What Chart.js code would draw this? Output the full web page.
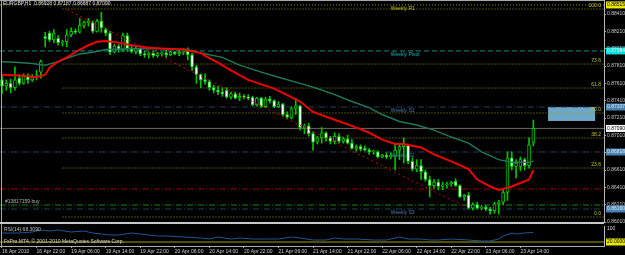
<!DOCTYPE html>
<html>
<head>
<meta charset="utf-8">
<script src="https://cdn.jsdelivr.net/npm/chart.js@4.4.1/dist/chart.umd.min.js"></script>
<style>
  html, body { margin: 0; padding: 0; background: #000; }
  #wrap { position: relative; width: 625px; height: 255px; background: #000; overflow: hidden; }
  canvas { position: absolute; left: 0; }
  #main { top: 0; }
  #sub { top: 224px; }
  .rule { position: absolute; background: #a8a8a8; }
</style>
</head>
<body>
<div id="wrap">
  <canvas id="main" width="625" height="226"></canvas>
  <canvas id="sub" width="625" height="31"></canvas>
  <div class="rule" style="left:0;top:0;width:604px;height:1px"></div>
  <div class="rule" style="left:1px;top:0;width:1px;height:246px"></div>
  <div class="rule" style="left:0;top:222px;width:604px;height:2px;background:#c8c8c8"></div>
</div>
<script>
// EURGBP H1, 16 Apr 14:00 .. 23 Apr 17:00 (bar index 0..123)
const timeLabels = ['16 Apr 2010', '16 Apr 22:00', '19 Apr 06:00', '19 Apr 14:00', '19 Apr 22:00',
  '20 Apr 06:00', '20 Apr 14:00', '20 Apr 22:00', '21 Apr 06:00', '21 Apr 14:00', '21 Apr 22:00',
  '22 Apr 06:00', '22 Apr 14:00', '22 Apr 22:00', '23 Apr 06:00', '23 Apr 14:00'];
const timeLabelBars = [0, 8, 16, 24, 32, 40, 48, 56, 64, 72, 80, 88, 96, 104, 112, 120];
const priceTicks = [0.86010, 0.86210, 0.86410, 0.86610, 0.86810, 0.87010, 0.87210,
  0.87410, 0.87610, 0.87810, 0.88010, 0.88210, 0.88410];

const opens = [
  .8765, .8758, .8761, .8756, .8767, .8761, .8770, .8765, .8768, .8774,
  .8815, .8819, .8811, .8813, .8808, .8809, .8817, .8821, .8820, .8828,
  .8831, .8831, .8821, .8833, .8823, .8819, .8797, .8804, .8800, .8816,
  .8801, .8798, .8801, .8795, .8794, .8796, .8793, .8795, .8796, .8794,
  .8797, .8795, .8797, .8798, .8794, .8780, .8771, .8765, .8763, .8756,
  .8753, .8751, .8753, .8745, .8749, .8744, .8746, .8745, .8745, .8736,
  .8744, .8734, .8743, .8741, .8734, .8737, .8725, .8721, .8732, .8735,
  .8710, .8712, .8703, .8693, .8698, .8704, .8698, .8694, .8700, .8694,
  .8697, .8692, .8686, .8688, .8686, .8684, .8682, .8682, .8676, .8678,
  .8676, .8677, .8684, .8688, .8690, .8671, .8662, .8666, .8659, .8650,
  .8643, .8647, .8642, .8644, .8645, .8648, .8643, .8630, .8632, .8617,
  .8621, .8617, .8618, .8616, .8614, .8622, .8624, .8635, .8675, .8665,
  .8665, .8673, .8666, .86928];
const highs = [
  .8770, .8765, .8766, .8780, .8771, .8772, .8772, .8771, .8776, .8788,
  .8820, .8821, .8823, .8816, .8811, .8823, .8825, .8824, .8836, .8833,
  .8836, .8833, .8835, .8843, .8825, .8821, .8806, .8806, .8819, .8819,
  .8804, .8803, .8802, .8798, .8797, .8798, .8797, .8797, .8800, .8798,
  .8798, .8800, .8801, .8802, .8796, .8782, .8772, .8772, .8765, .8759,
  .8758, .8756, .8756, .8751, .8751, .8750, .8748, .8748, .8746, .8745,
  .8745, .8745, .8746, .8742, .8740, .8738, .8728, .8734, .8744, .8736,
  .8714, .8715, .8705, .8700, .8710, .8705, .8700, .8704, .8703, .8699,
  .8701, .8696, .8690, .8690, .8689, .8686, .8684, .8683, .8679, .8681,
  .8681, .8692, .8692, .8698, .8691, .8675, .8673, .8673, .8661, .8654,
  .8650, .8650, .8647, .8647, .8648, .8651, .8644, .8633, .8635, .8623,
  .8624, .8620, .8620, .8618, .8624, .8626, .8638, .8682, .8682, .8673,
  .8676, .8675, .8698, .87187];
const lows = [
  .8749, .8753, .8750, .8753, .8759, .8760, .8761, .8763, .8765, .8767,
  .8803, .8809, .8808, .8805, .8804, .8803, .8815, .8818, .8819, .8825,
  .8827, .8819, .8820, .8820, .8816, .8794, .8796, .8797, .8798, .8798,
  .8796, .8795, .8793, .8791, .8790, .8791, .8791, .8793, .8791, .8793,
  .8794, .8793, .8794, .8788, .8776, .8761, .8756, .8760, .8753, .8750,
  .8748, .8746, .8744, .8743, .8743, .8741, .8743, .8742, .8735, .8735,
  .8733, .8733, .8738, .8733, .8733, .8723, .8720, .8720, .8725, .8707,
  .8703, .8700, .8684, .8691, .8692, .8694, .8691, .8691, .8692, .8692,
  .8691, .8685, .8683, .8683, .8683, .8679, .8679, .8675, .8675, .8674,
  .8674, .8661, .8673, .8669, .8668, .8660, .8659, .8650, .8648, .8630,
  .8640, .8638, .8638, .8640, .8642, .8642, .8629, .8626, .8616, .8615,
  .8616, .8615, .8614, .8610, .8611, .8610, .8621, .8626, .8661, .8652,
  .8660, .8661, .8663, .86887];
const closes = [
  .8758, .8761, .8756, .8765, .8761, .8770, .8765, .8768, .8770, .8786,
  .8813, .8811, .8819, .8808, .8809, .8817, .8821, .8820, .8828, .8831,
  .8833, .8821, .8833, .8825, .8819, .8797, .8804, .8800, .8816, .8801,
  .8798, .8801, .8795, .8794, .8796, .8793, .8795, .8796, .8794, .8797,
  .8795, .8797, .8798, .8794, .8780, .8771, .8765, .8763, .8756, .8753,
  .8751, .8749, .8745, .8749, .8744, .8746, .8745, .8744, .8736, .8744,
  .8734, .8743, .8741, .8734, .8737, .8725, .8722, .8732, .8735, .8710,
  .8712, .8703, .8693, .8698, .8704, .8698, .8694, .8700, .8694, .8697,
  .8692, .8686, .8688, .8685, .8684, .8682, .8683, .8676, .8678, .8676,
  .8678, .8684, .8688, .8690, .8671, .8662, .8666, .8659, .8650, .8643,
  .8647, .8642, .8644, .8645, .8647, .8643, .8630, .8632, .8617, .8621,
  .8617, .8618, .8616, .8614, .8622, .8624, .8635, .8675, .8665, .8669,
  .8673, .8666, .8690, .87090];

// moving averages (red fast, green slow), read at these bars
const fastBars = [0, 4, 8, 10, 11, 13, 15, 18, 20, 22, 24, 27, 30, 34, 38, 42, 46, 48, 50, 53,
  57, 63, 67, 69, 72, 77, 81, 85, 88, 91, 93, 97, 100, 104, 108, 110, 113, 115, 118, 120, 122, 123];
const fastMa = [.8771, .8770, .8768, .8771, .8779, .8786, .8791, .8800, .8805, .8809,
  .8810, .8808, .8805, .8802, .8801, .8800, .8796, .8790, .8785, .8776,
  .8765, .8755, .8745, .8740, .8728, .8719, .8712, .8704, .8696, .8691,
  .8691, .8687, .8679, .8671, .8662, .8650, .8642, .8638, .8642, .8646, .8650, .8661];
const slowBars = [0, 4, 7, 10, 13, 15, 18, 21, 24, 30, 38, 43, 46, 51, 55, 60, 64, 69, 73, 77,
  81, 85, 88, 92, 96, 100, 104, 108, 111, 115, 118, 122, 123];
const slowMa = [.8786, .8785, .8784, .8782, .8786, .8790, .8795, .8797, .8800, .8801,
  .8801, .8800, .8796, .8791, .8782, .8774, .8768, .8761, .8755, .8748,
  .8740, .8733, .8725, .8717, .8713, .8707, .8699, .8692, .8682, .8673, .8670, .8670, .8671];

const rsiBars = [0, 2, 4, 7, 9, 11, 13, 16, 19, 21, 23, 25, 27, 30, 34, 36, 38, 42, 46, 48,
  50, 53, 55, 58, 61, 64, 67, 69, 72, 75, 77, 79, 82, 86, 89, 92, 94, 97, 99, 101,
  104, 108, 111, 113, 115, 116, 118, 119, 121, 123];
const rsiValues = [65, 65, 65, 70, 80, 75, 80, 70, 75, 65, 60, 55, 55, 65, 55, 50, 50, 45, 40, 35,
  45, 35, 40, 35, 35, 35, 45, 40, 30, 30, 40, 35, 35, 30, 30, 45, 35, 35, 30, 30,
  35, 30, 25, 25, 35, 50, 65, 60, 65, 68.309];
const rsiLevel = 20;

// drawn objects
const fibNames = ['100.0', '73.6', '61.8', '50.0', '38.2', '23.6', '0.0'];
const fibPrices = [0.88468, 0.87833, 0.87556, 0.87268, 0.86979, 0.86633, 0.86068];
const fibStartBar = 14;
const weeklyNames = ['Weekly R1', 'Weekly Pivot', 'Weekly S1', 'Weekly S2', 'Weekly S3'];
const weeklyPrices = [0.88515, 0.87984, 0.87337, 0.86818, 0.86160];
const weeklyLabelBar = 90;
const trendBars = [15, 107];
const trendPrices = [0.8846, 0.8619];
const orderName = '#13817159 buy';
const orderPrice = 0.86206;
const stopPrice = 0.86391;
const bidPrice = 0.87090;
const zoneBars = [126.4, 137.3];
const zonePrices = [0.87337, 0.87176];

const X_MIN = -0.46, X_MAX = 139.35;
const FONT = '"Liberation Sans", Arial, sans-serif';
const GREEN = '#00c400';

function hline(price, from, color, dash, width) {
  return {
    type: 'line', data: [{ x: from, y: price }, { x: X_MAX, y: price }],
    borderColor: color, borderDash: dash, borderWidth: width || 1,
    pointRadius: 0, order: 20
  };
}

const datasets = [];
weeklyPrices.forEach((p, i) => {
  if (i === 0) datasets.push(hline(p, X_MIN, '#9a9a00', [1, 2]));
  else if (i === 1) datasets.push(hline(p, X_MIN, '#168c8c', [5, 3]));
  else datasets.push(hline(p, X_MIN, '#233f5c', [6, 2, 1, 2]));
});
fibPrices.forEach(p => datasets.push(hline(p, fibStartBar, '#9a9a00', [1, 2])));
datasets.push(hline(bidPrice, X_MIN, '#6e675f', []));
datasets.push(hline(stopPrice, X_MIN, '#a00000', [6, 2, 1, 2]));
datasets.push(hline(orderPrice, X_MIN, '#009000', [6, 2, 1, 2]));

datasets.push({
  type: 'bar', order: 4, grouped: false, barThickness: 1,
  data: highs.map((h, i) => ({ x: i, y: [lows[i], h] })),
  backgroundColor: GREEN
});
datasets.push({
  type: 'bar', order: 3, grouped: false, barThickness: 3, minBarLength: 1,
  data: opens.map((o, i) => ({ x: i, y: [o, closes[i]] })),
  backgroundColor: c => closes[c.dataIndex] >= opens[c.dataIndex] ? '#000000' : '#ffffff',
  borderColor: GREEN, borderWidth: 1, borderSkipped: false
});
datasets.push({
  type: 'line', order: 2, data: slowBars.map((b, i) => ({ x: b, y: slowMa[i] })),
  borderColor: '#1f785a', borderWidth: 1.5, pointRadius: 0
});
datasets.push({
  type: 'line', order: 1, data: fastBars.map((b, i) => ({ x: b, y: fastMa[i] })),
  borderColor: '#f00000', borderWidth: 2, pointRadius: 0
});
datasets.push({
  type: 'line', order: 0, data: trendBars.map((b, i) => ({ x: b, y: trendPrices[i] })),
  borderColor: '#c00000', borderWidth: 1, borderDash: [2, 3], pointRadius: 0
});

const mainText = {
  id: 'mainText',
  beforeDatasetsDraw(chart) {
    const { ctx, scales: { x, y } } = chart;
    const x0 = x.getPixelForValue(zoneBars[0]), x1 = x.getPixelForValue(zoneBars[1]);
    const y0 = y.getPixelForValue(zonePrices[0]), y1 = y.getPixelForValue(zonePrices[1]);
    ctx.save();
    ctx.fillStyle = '#6ea6c6';
    ctx.fillRect(x0, y0, x1 - x0, y1 - y0);
    ctx.restore();
  },
  afterDatasetsDraw(chart) {
    const { ctx, chartArea, scales: { x, y } } = chart;
    ctx.save();
    ctx.font = '5px ' + FONT;
    ctx.textBaseline = 'top';
    ctx.fillStyle = '#e0e0e0';
    const n = opens.length - 1;
    ctx.fillText('EURGBP,H1  ' + [opens[n], highs[n], lows[n], closes[n]].map(v => v.toFixed(5)).join(' '), 3, 1);

    const wx = x.getPixelForValue(weeklyLabelBar);
    const wColors = ['#c4c400', '#20b4b4', '#4a7eaa', '#4a7eaa', '#4a7eaa'];
    weeklyNames.forEach((name, i) => {
      ctx.fillStyle = wColors[i];
      ctx.fillText(name, wx, y.getPixelForValue(weeklyPrices[i]) + 1);
    });

    ctx.fillStyle = '#b8b8b8';
    ctx.textBaseline = 'bottom';
    ctx.fillText(orderName, 5, y.getPixelForValue(orderPrice) - 1);

    ctx.textAlign = 'right';
    ctx.fillStyle = '#c0c030';
    fibNames.forEach((name, i) => {
      ctx.fillText(name, chartArea.right - 3, y.getPixelForValue(fibPrices[i]) - 1);
    });
    ctx.restore();
  },
  afterDraw(chart) {
    const { ctx, chartArea, scales: { y } } = chart;
    const boxes = [
      [weeklyPrices[0], '#e8e800', '#000'],
      [weeklyPrices[1], '#00dede', '#f0f0f0'],
      [weeklyPrices[2], '#4682b4', '#e0e8f0'],
      [bidPrice, '#ffffff', '#000'],
      [weeklyPrices[3], '#4682b4', '#e0e8f0'],
      [weeklyPrices[4], '#4682b4', '#e0e8f0']
    ];
    ctx.save();
    ctx.font = '5px ' + FONT;
    ctx.textBaseline = 'middle';
    boxes.forEach(([p, bg, fg]) => {
      const py = y.getPixelForValue(p);
      ctx.fillStyle = bg;
      ctx.fillRect(chartArea.right + 2, py - 3.5, 22, 7);
      ctx.fillStyle = fg;
      ctx.fillText(p.toFixed(5), chartArea.right + 3, py);
    });
    ctx.restore();
  }
};

new Chart(document.getElementById('main'), {
  type: 'line',
  data: { datasets },
  options: {
    responsive: false, animation: false,
    layout: { padding: { left: 0, right: 0, top: 0, bottom: 4 } },
    plugins: { legend: { display: false }, tooltip: { enabled: false } },
    scales: {
      x: { type: 'linear', min: X_MIN, max: X_MAX, offset: false, display: false },
      y: {
        position: 'right', min: 0.86010, max: 0.88572,
        afterFit(s) { s.width = 21; s.paddingTop = 0; s.paddingBottom = 0; },
        afterBuildTicks(s) { s.ticks = priceTicks.map(v => ({ value: v })); },
        ticks: { color: '#c8c8c8', font: { size: 5, family: FONT }, padding: 1,
          callback: v => v.toFixed(5) },
        grid: { drawOnChartArea: false, color: '#b0b0b0', tickLength: 2 },
        border: { color: '#b8b8b8' }
      }
    }
  },
  plugins: [mainText]
});

const subText = {
  id: 'subText',
  afterDatasetsDraw(chart) {
    const { ctx, chartArea, scales: { y } } = chart;
    ctx.save();
    ctx.font = '5px ' + FONT;
    ctx.textBaseline = 'top';
    ctx.fillStyle = '#c0c0c0';
    ctx.fillText('RSI(14) ' + rsiValues[rsiValues.length - 1].toFixed(4), 4, 3);
    ctx.fillStyle = '#d8d8d8';
    ctx.fillText('FxPro MT4, \u00a9 2001-2010 MetaQuotes Software Corp.', 4, 15);
    ctx.fillText('100', chartArea.right + 3, 2);
    const py = y.getPixelForValue(rsiLevel);
    ctx.fillStyle = '#e8e800';
    ctx.fillRect(chartArea.right + 2, py - 3.5, 22, 7);
    ctx.fillStyle = '#000';
    ctx.textBaseline = 'middle';
    ctx.fillText(rsiLevel.toFixed(4), chartArea.right + 3, py);
    ctx.restore();
  }
};

new Chart(document.getElementById('sub'), {
  type: 'line',
  data: {
    datasets: [
      { data: [{ x: X_MIN, y: rsiLevel }, { x: X_MAX, y: rsiLevel }], borderColor: '#a0a000',
        borderWidth: 1, pointRadius: 0, order: 2 },
      { data: rsiBars.map((b, i) => ({ x: b, y: rsiValues[i] })), borderColor: '#1f5596',
        borderWidth: 1, pointRadius: 0, order: 1 }
    ]
  },
  options: {
    responsive: false, animation: false,
    layout: { padding: { left: 0, right: 0, top: 2, bottom: 0 } },
    plugins: { legend: { display: false }, tooltip: { enabled: false } },
    scales: {
      x: {
        type: 'linear', min: X_MIN, max: X_MAX, offset: false,
        afterFit(s) { s.height = 9; s.paddingLeft = 0; s.paddingRight = 0; },
        afterBuildTicks(s) { s.ticks = timeLabelBars.map(v => ({ value: v })); },
        ticks: { autoSkip: false, maxRotation: 0, align: 'start', padding: 1,
          color: '#d0d0d0', font: { size: 5, family: FONT },
          callback: (v, i) => timeLabels[i] },
        grid: { drawOnChartArea: false, color: '#a0a0a0', tickLength: 2 },
        border: { color: '#b0b0b0' }
      },
      y: {
        position: 'right', min: 0, max: 100,
        afterFit(s) { s.width = 21; s.paddingTop = 0; s.paddingBottom = 0; },
        ticks: { display: false },
        grid: { display: false },
        border: { color: '#b8b8b8' }
      }
    }
  },
  plugins: [subText]
});
</script>
</body>
</html>
